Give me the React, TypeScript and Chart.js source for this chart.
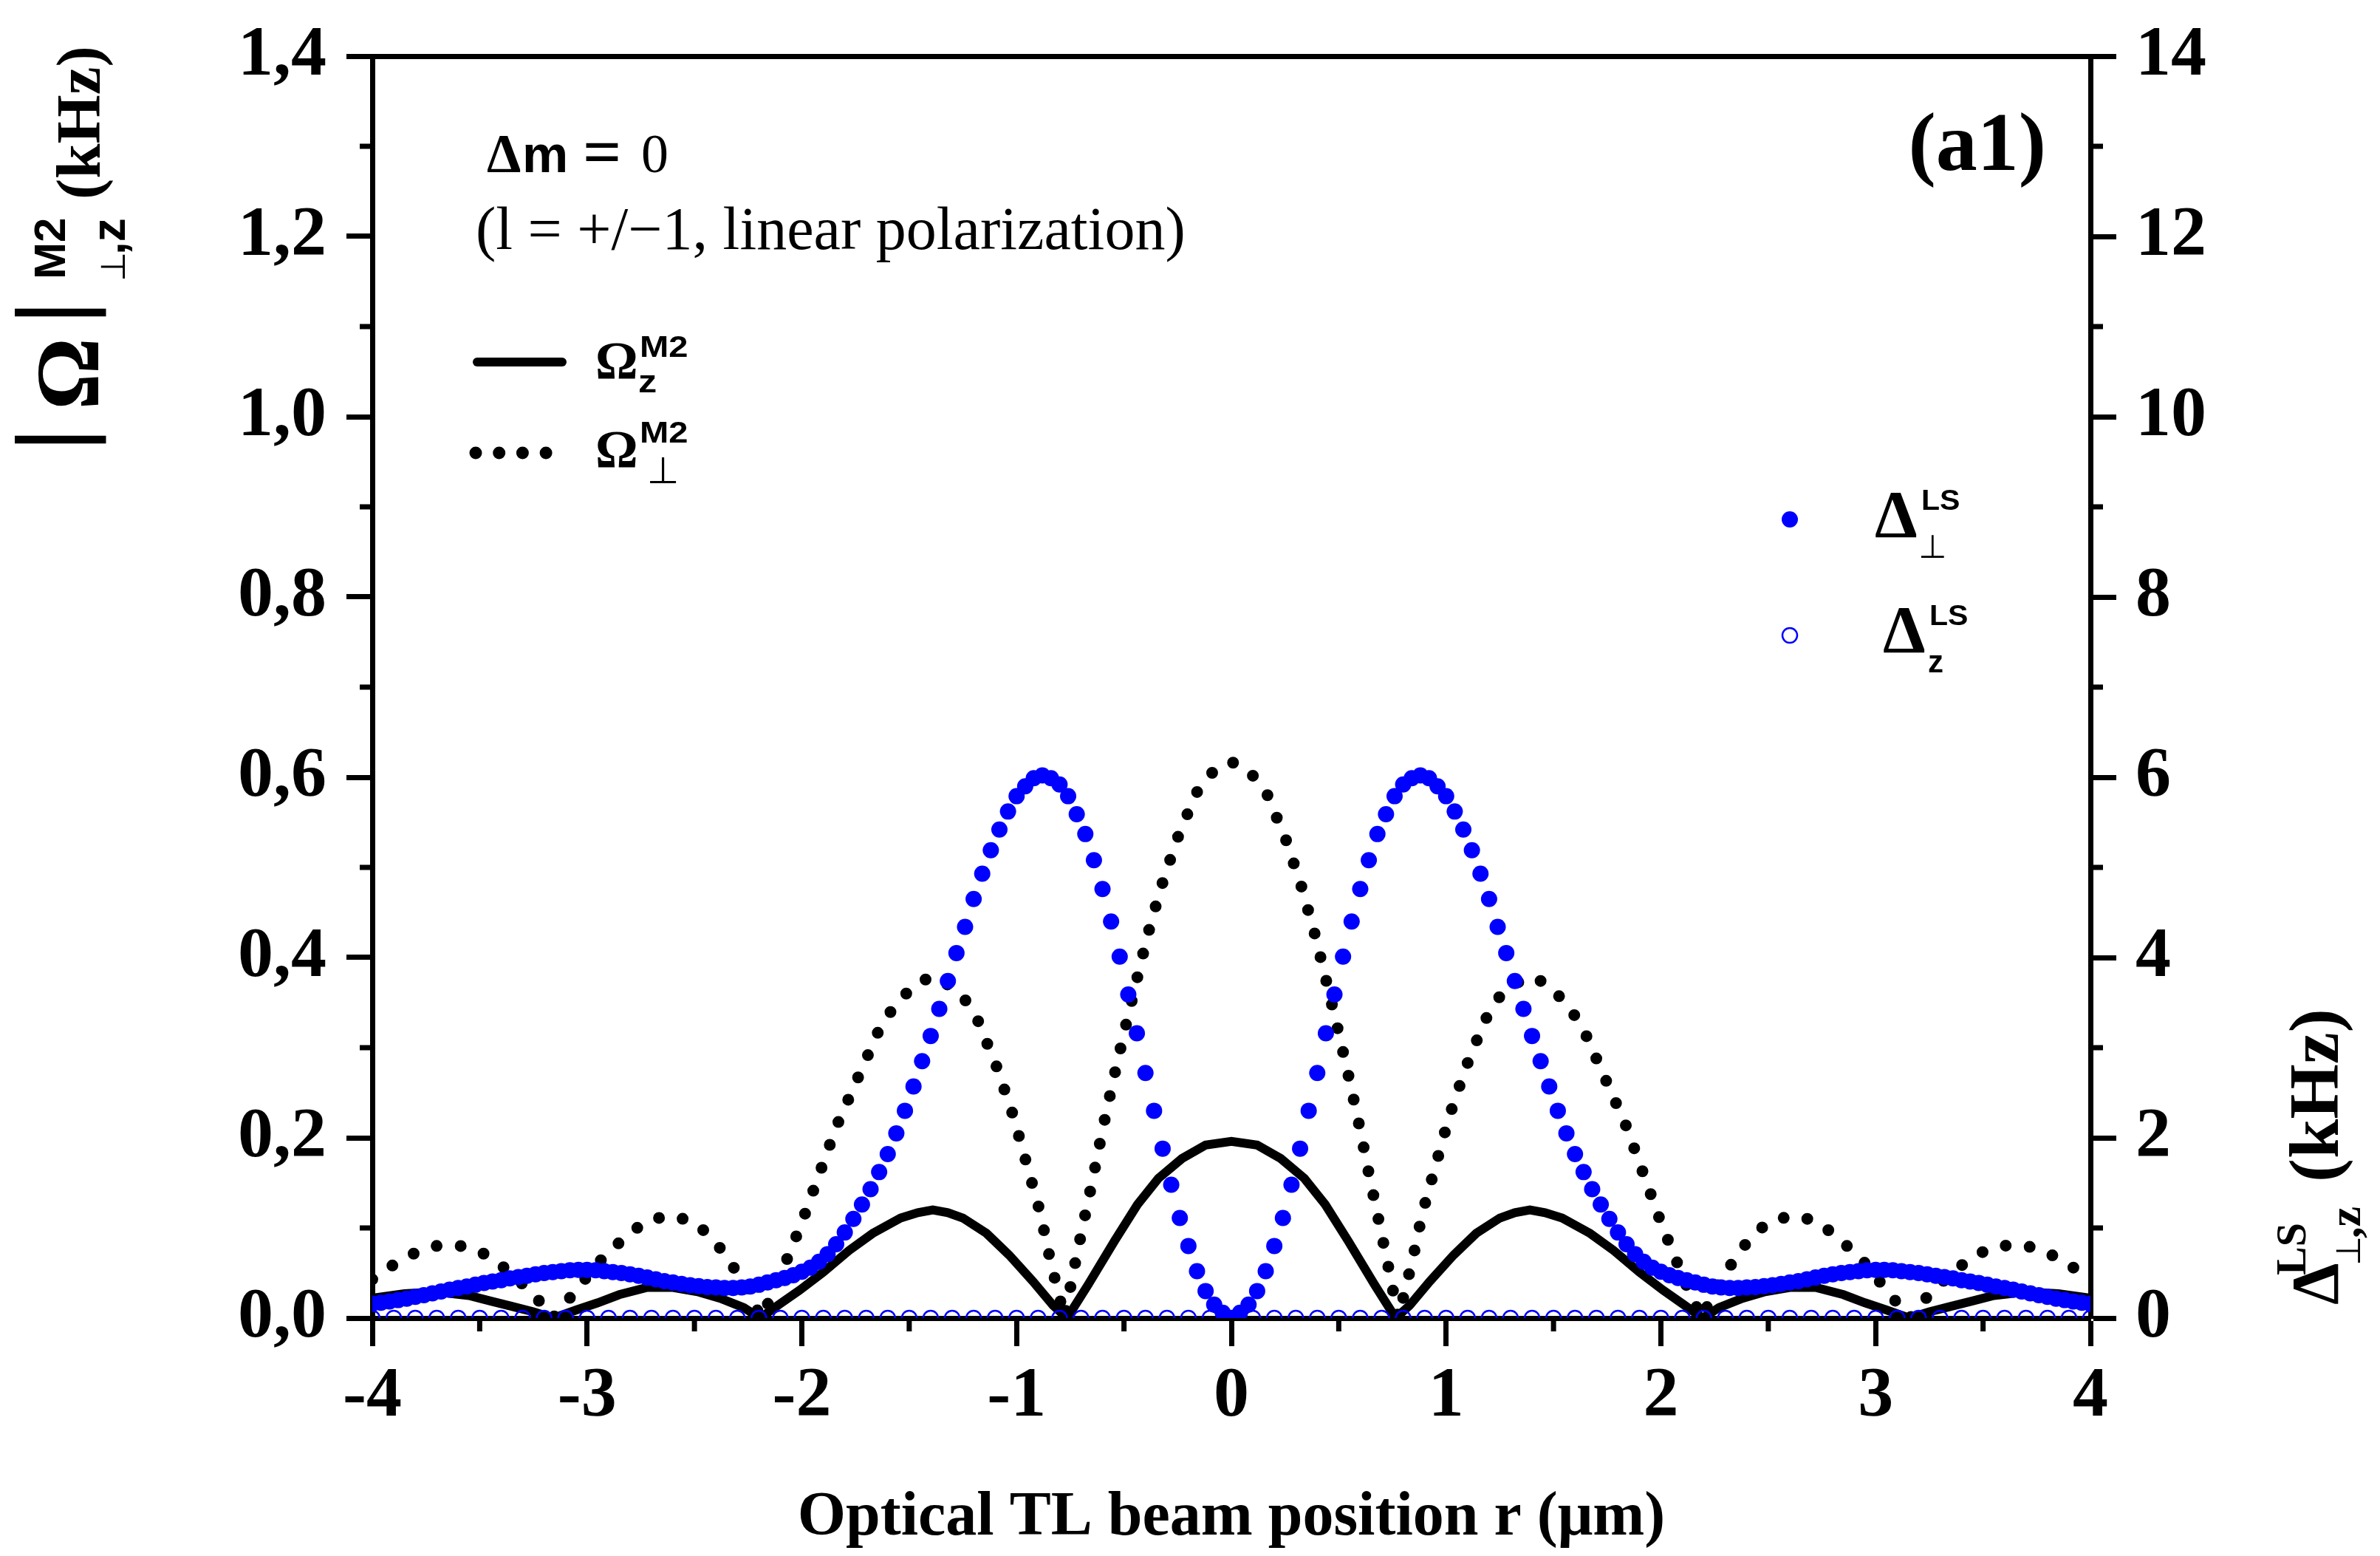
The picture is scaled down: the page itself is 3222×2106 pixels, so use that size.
import { useEffect, useRef } from "react";
import { Chart, registerables } from "chart.js";

Chart.register(...registerables);

const serif = "'Liberation Serif', 'Times New Roman', serif";
const sans = "'Liberation Sans', Arial, sans-serif";
const symbolFont = "'DejaVu Sans', sans-serif";

// axis ticks
const rTicks = [-4, -3, -2, -1, 0, 1, 2, 3, 4];
const rMinorTicks = [-3.5, -2.5, -1.5, -0.5, 0.5, 1.5, 2.5, 3.5];
const omegaTicks = [0, 0.2, 0.4, 0.6, 0.8, 1.0, 1.2, 1.4];
const omegaMinorTicks = [0.1, 0.3, 0.5, 0.7, 0.9, 1.1, 1.3];
const deltaTicks = [0, 2, 4, 6, 8, 10, 12, 14];
const deltaMinorTicks = [1, 3, 5, 7, 9, 11, 13];

// |Omega_z^M2| (kHz), solid line
const omegaZR = [
  -4, -3.85, -3.7, -3.55, -3.45, -3.35, -3.25, -3.156, -3.05, -2.95, -2.85, -2.72, -2.6,
  -2.48, -2.38, -2.27, -2.194, -2.1, -2.01, -1.9, -1.78, -1.67, -1.54, -1.46, -1.39, -1.32,
  -1.25, -1.14, -1.035, -0.925, -0.83, -0.765, -0.667, -0.543, -0.437, -0.34, -0.23, -0.12,
  0,
  0.12, 0.23, 0.34, 0.437, 0.543, 0.667, 0.765, 0.83, 0.925, 1.035, 1.14, 1.25, 1.32, 1.39,
  1.46, 1.54, 1.67, 1.78, 1.9, 2.01, 2.1, 2.194, 2.27, 2.38, 2.48, 2.6, 2.72, 2.85, 2.95,
  3.05, 3.156, 3.25, 3.35, 3.45, 3.55, 3.7, 3.85, 4,
];
const omegaZ = [
  0.022, 0.027, 0.029, 0.025, 0.019, 0.013, 0.007, 0, 0.009, 0.017, 0.026, 0.034, 0.034,
  0.029, 0.022, 0.0115, 0, 0.016, 0.031, 0.051, 0.075, 0.094, 0.111, 0.117, 0.12, 0.117,
  0.111, 0.094, 0.07, 0.041, 0.014, 0, 0.037, 0.086, 0.126, 0.155, 0.177, 0.192,
  0.196,
  0.192, 0.177, 0.155, 0.126, 0.086, 0.037, 0, 0.014, 0.041, 0.07, 0.094, 0.111, 0.117, 0.12,
  0.117, 0.111, 0.094, 0.075, 0.051, 0.031, 0.016, 0, 0.0115, 0.022, 0.029, 0.034, 0.034,
  0.026, 0.017, 0.009, 0, 0.007, 0.013, 0.019, 0.025, 0.029, 0.027, 0.022,
];

// |Omega_perp^M2| (kHz), dotted line
const omegaPerpR = [
  -4, -3.89, -3.78, -3.67, -3.55, -3.45, -3.34, -3.23, -3.16, -3.13, -3.04, -2.95, -2.84,
  -2.73, -2.62, -2.5, -2.4, -2.32, -2.26, -2.19, -2.13, -2.09, -2, -1.92, -1.84, -1.74,
  -1.64, -1.57, -1.47, -1.4, -1.36, -1.25, -1.18, -1.09, -1.015, -0.953, -0.89, -0.843,
  -0.815, -0.777, -0.736, -0.69, -0.643, -0.598, -0.55, -0.5, -0.444, -0.392, -0.33,
  -0.255, -0.165, -0.076,
  0,
  0.076, 0.165, 0.255, 0.33, 0.392, 0.444, 0.5, 0.55, 0.598, 0.643, 0.69, 0.736, 0.777,
  0.815, 0.843, 0.89, 0.953, 1.015, 1.09, 1.18, 1.25, 1.36, 1.4, 1.47, 1.57, 1.64, 1.74,
  1.84, 1.92, 2, 2.09, 2.13, 2.19, 2.26, 2.32, 2.4, 2.5, 2.62, 2.73, 2.84, 2.95, 3.04, 3.13,
  3.16, 3.23, 3.34, 3.45, 3.55, 3.67, 3.78, 3.89, 4,
];
const omegaPerp = [
  0.043, 0.061, 0.075, 0.082, 0.079, 0.068, 0.047, 0.021, 0, 0.008, 0.034, 0.061, 0.086,
  0.107, 0.114, 0.107, 0.084, 0.057, 0.035, 0, 0.03, 0.053, 0.106, 0.159, 0.212, 0.266,
  0.32, 0.346, 0.371, 0.378, 0.377, 0.357, 0.33, 0.277, 0.224, 0.171, 0.117, 0.064,
  0.037, 0, 0.051, 0.104, 0.157, 0.211, 0.264, 0.316, 0.372, 0.423, 0.476,
  0.53, 0.582, 0.609,
  0.617,
  0.609, 0.582, 0.53, 0.476, 0.423, 0.372, 0.316, 0.264, 0.211, 0.157, 0.104, 0.051, 0,
  0.037, 0.064, 0.117, 0.171, 0.224, 0.277, 0.33, 0.357, 0.377, 0.378, 0.371, 0.346, 0.32,
  0.266, 0.212, 0.159, 0.106, 0.053, 0.03, 0, 0.035, 0.057, 0.084, 0.107, 0.114, 0.107,
  0.086, 0.061, 0.034, 0.008, 0, 0.021, 0.047, 0.068, 0.079, 0.082, 0.075, 0.061, 0.043,
];

// Delta_perp^LS (kHz), filled blue circles, sampled every 0.04 um from -4 to 4
const deltaPerpStart = -4;
const deltaPerpStep = 0.04;
const deltaPerp = [
  0.16, 0.17, 0.185, 0.2, 0.215, 0.235, 0.255, 0.275, 0.295, 0.315,
  0.335, 0.35, 0.37, 0.39, 0.405, 0.42, 0.44, 0.455, 0.47, 0.485,
  0.5, 0.51, 0.52, 0.53, 0.535, 0.535, 0.53, 0.52, 0.51, 0.5,
  0.485, 0.47, 0.45, 0.43, 0.41, 0.395, 0.38, 0.365, 0.355, 0.345,
  0.34, 0.335, 0.335, 0.34, 0.35, 0.37, 0.395, 0.42, 0.445, 0.475,
  0.515, 0.56, 0.625, 0.71, 0.82, 0.95, 1.1, 1.26, 1.43, 1.62,
  1.82, 2.05, 2.3, 2.57, 2.85, 3.13, 3.43, 3.74, 4.05, 4.34,
  4.65, 4.93, 5.19, 5.42, 5.62, 5.79, 5.9, 5.99, 6.02, 5.99,
  5.92, 5.79, 5.59, 5.37, 5.08, 4.76, 4.4, 4.01, 3.59, 3.16,
  2.72, 2.3, 1.88, 1.48, 1.11, 0.8, 0.52, 0.3, 0.15, 0.06,
  0,
  0.06, 0.15, 0.3, 0.52, 0.8, 1.11, 1.48, 1.88, 2.3, 2.72,
  3.16, 3.59, 4.01, 4.4, 4.76, 5.08, 5.37, 5.59, 5.79, 5.92,
  5.99, 6.02, 5.99, 5.9, 5.79, 5.62, 5.42, 5.19, 4.93, 4.65,
  4.34, 4.05, 3.74, 3.43, 3.13, 2.85, 2.57, 2.3, 2.05, 1.82,
  1.62, 1.43, 1.26, 1.1, 0.95, 0.82, 0.71, 0.625, 0.56, 0.515,
  0.475, 0.445, 0.42, 0.395, 0.37, 0.35, 0.34, 0.335, 0.335, 0.34,
  0.345, 0.355, 0.365, 0.38, 0.395, 0.41, 0.43, 0.45, 0.47, 0.485,
  0.5, 0.51, 0.52, 0.53, 0.535, 0.535, 0.53, 0.52, 0.51, 0.5,
  0.485, 0.47, 0.455, 0.44, 0.42, 0.405, 0.39, 0.37, 0.35, 0.335,
  0.315, 0.295, 0.275, 0.255, 0.235, 0.215, 0.2, 0.185, 0.17, 0.16,
];

// Delta_z^LS (kHz), open blue circles, every 0.1 um from -4 to 4
const deltaZStart = -4;
const deltaZStep = 0.1;
const deltaZ = [
  0, 0, 0, 0, 0, 0, 0, 0, 0, 0, 0, 0, 0, 0, 0, 0, 0, 0, 0, 0,
  0, 0, 0, 0, 0, 0, 0, 0, 0, 0, 0, 0, 0, 0, 0, 0, 0, 0, 0, 0,
  0,
  0, 0, 0, 0, 0, 0, 0, 0, 0, 0, 0, 0, 0, 0, 0, 0, 0, 0, 0, 0,
  0, 0, 0, 0, 0, 0, 0, 0, 0, 0, 0, 0, 0, 0, 0, 0, 0, 0, 0, 0,
];

const BLUE = "#0000ff";

type Piece = { text: string; font: string; u: number; v: number; align?: CanvasTextAlign; sx?: number };

function drawPieces(ctx: CanvasRenderingContext2D, x: number, y: number, angle: number, pieces: Piece[]) {
  ctx.save();
  ctx.translate(x, y);
  ctx.rotate(angle);
  ctx.fillStyle = "#000";
  ctx.textBaseline = "alphabetic";
  for (const p of pieces) {
    ctx.save();
    ctx.font = p.font;
    ctx.textAlign = p.align ?? "left";
    ctx.translate(p.u, p.v);
    ctx.scale(p.sx ?? 1, 1);
    ctx.fillText(p.text, 0, 0);
    ctx.restore();
  }
  ctx.restore();
}

// a "|" glyph sized so that its ink runs from vTop over the given length
function drawBar(ctx: CanvasRenderingContext2D, u: number, vTop: number, length: number) {
  ctx.font = `100px ${sans}`;
  const m = ctx.measureText("|");
  const size = (100 * length) / (m.actualBoundingBoxAscent + m.actualBoundingBoxDescent);
  ctx.font = `${size}px ${sans}`;
  const m2 = ctx.measureText("|");
  ctx.textAlign = "center";
  ctx.fillText("|", u, vTop + m2.actualBoundingBoxAscent);
}

const overlayPlugin = {
  id: "overlay",
  afterDraw(chart: Chart) {
    const { ctx, chartArea: area } = chart;
    const xs = chart.scales.x;
    const yl = chart.scales.y;
    const yr = chart.scales.y2;

    // minor ticks
    ctx.save();
    ctx.strokeStyle = "#000";
    ctx.lineWidth = 7;
    ctx.beginPath();
    rMinorTicks.forEach((v) => {
      const p = xs.getPixelForValue(v);
      ctx.moveTo(p, area.bottom);
      ctx.lineTo(p, area.bottom + 18);
    });
    omegaMinorTicks.forEach((v) => {
      const p = yl.getPixelForValue(v);
      ctx.moveTo(area.left - 17, p);
      ctx.lineTo(area.left, p);
    });
    deltaMinorTicks.forEach((v) => {
      const p = yr.getPixelForValue(v);
      ctx.moveTo(area.right, p);
      ctx.lineTo(area.right + 17, p);
    });
    ctx.stroke();
    ctx.restore();

    // left axis title  |Ω|^M2_⊥,z (kHz)
    ctx.save();
    ctx.translate(135, 600);
    ctx.rotate(-Math.PI / 2);
    ctx.fillStyle = "#000";
    drawBar(ctx, 5, -115, 123);
    drawBar(ctx, 177, -115, 123);
    ctx.restore();
    drawPieces(ctx, 135, 600, -Math.PI / 2, [
      { text: "Ω", font: `bold 122px ${serif}`, u: 94, v: -2, align: "center" },
      { text: "M2", font: `bold 60px ${sans}`, u: 222, v: -47 },
      { text: "⊥", font: `46px ${symbolFont}`, u: 219, v: 34 },
      { text: ",z", font: `bold 64px ${sans}`, u: 255, v: 34 },
      { text: "(kHz)", font: `bold 85px ${serif}`, u: 330, v: 0 },
    ]);

    // right axis title  Δ^LS_⊥,z (kHz)
    drawPieces(ctx, 3165, 1766, -Math.PI / 2, [
      { text: "Δ", font: `bold 90px ${serif}`, u: 0, v: 0 },
      { text: "LS", font: `bold 58px ${serif}`, u: 40, v: -44 },
      { text: "⊥", font: `46px ${symbolFont}`, u: 53, v: 30 },
      { text: ",z", font: `bold 62px ${serif}`, u: 90, v: 30 },
      { text: "(kHz)", font: `bold 96px ${serif}`, u: 166, v: 0 },
    ]);

    // annotations and legend texts
    drawPieces(ctx, 0, 0, 0, [
      { text: "Δ", font: `bold 74px ${serif}`, u: 659, v: 233 },
      { text: "m", font: `bold 70px ${sans}`, u: 707, v: 233 },
      { text: "=", font: `bold 92px ${serif}`, u: 789, v: 236 },
      { text: "0", font: `74px ${serif}`, u: 868, v: 233 },
      { text: "(l = +/−1, linear polarization)", font: `82px ${serif}`, u: 644, v: 337 },
      { text: "(a1)", font: `bold 112px ${serif}`, u: 2770, v: 230, align: "right" },
      { text: "Ω", font: `bold 72px ${serif}`, u: 806, v: 512 },
      { text: "M2", font: `bold 40px ${sans}`, u: 866, v: 483, sx: 1.18 },
      { text: "z", font: `bold 42px ${sans}`, u: 864, v: 531, sx: 1.2 },
      { text: "Ω", font: `bold 72px ${serif}`, u: 806, v: 632 },
      { text: "M2", font: `bold 40px ${sans}`, u: 866, v: 599, sx: 1.18 },
      { text: "⊥", font: `50px ${symbolFont}`, u: 876, v: 654 },
      { text: "Δ", font: `bold 92px ${serif}`, u: 2538, v: 727 },
      { text: "LS", font: `bold 38px ${sans}`, u: 2601, v: 690, sx: 1.08 },
      { text: "⊥", font: `44px ${symbolFont}`, u: 2597, v: 755 },
      { text: "Δ", font: `bold 92px ${serif}`, u: 2549, v: 883 },
      { text: "LS", font: `bold 38px ${sans}`, u: 2612, v: 846, sx: 1.08 },
      { text: "z", font: `bold 42px ${sans}`, u: 2610, v: 910 },
    ]);

    // legend symbols
    ctx.save();
    ctx.strokeStyle = "#000";
    ctx.lineCap = "round";
    ctx.lineWidth = 12;
    ctx.beginPath();
    ctx.moveTo(646, 490);
    ctx.lineTo(761, 490);
    ctx.stroke();
    ctx.lineWidth = 17;
    ctx.setLineDash([0, 31.7]);
    ctx.beginPath();
    ctx.moveTo(644, 613);
    ctx.lineTo(741, 613);
    ctx.stroke();
    ctx.setLineDash([]);
    ctx.fillStyle = BLUE;
    ctx.beginPath();
    ctx.arc(2423, 703, 11, 0, Math.PI * 2);
    ctx.fill();
    ctx.strokeStyle = BLUE;
    ctx.lineWidth = 2.5;
    ctx.beginPath();
    ctx.arc(2423, 860, 10, 0, Math.PI * 2);
    ctx.stroke();
    ctx.restore();
  },
};

const tickFont = { family: serif, weight: "bold" as const, size: 96 };

export default function App() {
  const canvasRef = useRef<HTMLCanvasElement | null>(null);

  useEffect(() => {
    document.body.style.margin = "0";
    if (!canvasRef.current) {
      return;
    }

    const chart = new Chart(canvasRef.current, {
      type: "scatter",
      data: {
        datasets: [
          {
            label: "Δz LS",
            data: deltaZ.map((v, i) => ({ x: deltaZStart + i * deltaZStep, y: v })),
            yAxisID: "y2",
            showLine: false,
            pointRadius: 10,
            pointBorderWidth: 2.5,
            pointBorderColor: BLUE,
            pointBackgroundColor: "rgba(0,0,0,0)",
            clip: 0,
          },
          {
            label: "Δ⊥ LS",
            data: deltaPerp.map((v, i) => ({ x: deltaPerpStart + i * deltaPerpStep, y: v })),
            yAxisID: "y2",
            showLine: false,
            pointRadius: 11,
            pointBorderWidth: 0,
            pointBackgroundColor: BLUE,
            clip: 0,
          },
          {
            label: "Ω⊥ M2",
            data: omegaPerpR.map((r, i) => ({ x: r, y: omegaPerp[i] })),
            yAxisID: "y",
            showLine: true,
            borderColor: "#000",
            borderWidth: 16,
            borderDash: [0, 33],
            borderCapStyle: "round",
            pointRadius: 0,
            tension: 0,
            clip: 0,
          },
          {
            label: "Ωz M2",
            data: omegaZR.map((r, i) => ({ x: r, y: omegaZ[i] })),
            yAxisID: "y",
            showLine: true,
            borderColor: "#000",
            borderWidth: 12,
            pointRadius: 0,
            tension: 0,
            clip: 0,
          },
        ],
      },
      options: {
        animation: false,
        responsive: true,
        maintainAspectRatio: false,
        devicePixelRatio: 1,
        layout: { padding: { top: 76, left: 0, right: 0, bottom: 0 } },
        plugins: {
          legend: { display: false },
          tooltip: { enabled: false },
        },
        scales: {
          x: {
            type: "linear",
            position: "bottom",
            min: -4,
            max: 4,
            afterBuildTicks: (s) => {
              s.ticks = rTicks.map((value) => ({ value }));
            },
            afterFit: (s) => {
              s.height = 322;
              s.paddingLeft = 0;
              s.paddingRight = 0;
            },
            ticks: {
              color: "#000",
              font: tickFont,
              padding: 12,
              maxRotation: 0,
              autoSkip: false,
              callback: (v) => String(v),
            },
            grid: { drawOnChartArea: false, tickLength: 38, tickWidth: 7, tickColor: "#000" },
            border: { color: "#000", width: 7 },
            title: {
              display: true,
              text: "Optical TL beam position r (μm)",
              color: "#000",
              font: { family: serif, weight: "bold", size: 84 },
              padding: 0,
            },
          },
          x2: {
            type: "linear",
            position: "top",
            min: -4,
            max: 4,
            grid: { display: false },
            ticks: { display: false },
            border: { color: "#000", width: 7 },
            afterFit: (s) => {
              s.height = 0;
            },
          },
          y: {
            type: "linear",
            position: "left",
            min: 0,
            max: 1.4,
            afterBuildTicks: (s) => {
              s.ticks = omegaTicks.map((value) => ({ value }));
            },
            afterFit: (s) => {
              s.width = 504;
              s.paddingTop = 0;
              s.paddingBottom = 0;
            },
            ticks: {
              color: "#000",
              font: tickFont,
              padding: 27,
              callback: (v) => Number(v).toFixed(1).replace(".", ","),
            },
            grid: { drawOnChartArea: false, tickLength: 35, tickWidth: 7, tickColor: "#000" },
            border: { color: "#000", width: 7 },
          },
          y2: {
            type: "linear",
            position: "right",
            min: 0,
            max: 14,
            afterBuildTicks: (s) => {
              s.ticks = deltaTicks.map((value) => ({ value }));
            },
            afterFit: (s) => {
              s.width = 392;
              s.paddingTop = 0;
              s.paddingBottom = 0;
            },
            ticks: {
              color: "#000",
              font: tickFont,
              padding: 26,
              callback: (v) => String(v),
            },
            grid: { drawOnChartArea: false, tickLength: 35, tickWidth: 7, tickColor: "#000" },
            border: { color: "#000", width: 7 },
          },
        },
      },
      plugins: [overlayPlugin],
    });

    return () => chart.destroy();
  }, []);

  return (
    <div style={{ width: 3222, height: 2106, position: "relative", background: "#fff" }}>
      <canvas ref={canvasRef} />
    </div>
  );
}
